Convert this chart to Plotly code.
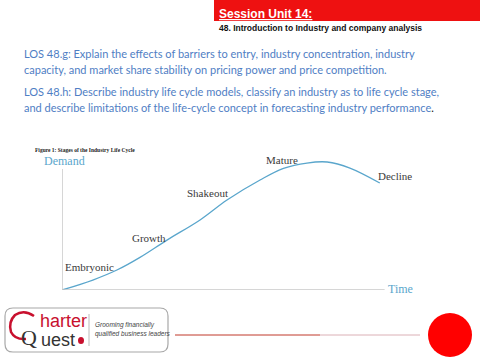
import plotly.graph_objects as go

# ---- data ----
time_vals = [0, 9.6, 17.1, 24.3, 32.7, 43.0, 51.4, 61.7, 69.0, 76.3, 82.6, 89.7, 99.0]
demand_vals = [0, 7.8, 15.6, 25.5, 39.0, 54.7, 70.3, 85.9, 95.0, 99.2, 100.0, 95.3, 83.6]
stage_names = ["Embryonic", "Growth", "Shakeout", "Mature", "Decline"]
stage_t = [8.6, 27.0, 45.2, 68.5, 103.7]
stage_d = [17.8, 41.0, 75.5, 101.2, 89.0]

W, H = 480, 360
def px(x):
    return x / W
def py(y):
    return 1 - y / H

fig = go.Figure()
fig.add_trace(go.Scatter(x=time_vals, y=demand_vals, mode="lines",
                         line=dict(color="#5aa6cc", width=1.3, shape="spline", smoothing=1.0),
                         hoverinfo="skip", showlegend=False))

# 100 time units = 321 px, 100 demand units = 128 px
XR, YR = 112, 106
sx, sy = 3.21, 1.28
fig.update_layout(
    width=W, height=H, margin=dict(l=0, r=0, t=0, b=0),
    paper_bgcolor="white", plot_bgcolor="rgba(0,0,0,0)",
    xaxis=dict(domain=[px(62), px(62 + XR * sx)], range=[0, XR], visible=False),
    yaxis=dict(domain=[py(290), py(290 - YR * sy)], range=[0, YR], visible=False),
    showlegend=False,
)

axis_col = "#c9c9c9"
fig.add_shape(type="line", xref="x", yref="y", x0=0, x1=0, y0=0, y1=94.5,
              line=dict(color=axis_col, width=1.5))
fig.add_shape(type="line", xref="x", yref="y", x0=0, x1=100.5, y0=0, y1=0,
              line=dict(color=axis_col, width=1.5))

serif = "Liberation Serif"
for name, t, d in zip(stage_names, stage_t, stage_d):
    fig.add_annotation(x=t, y=d, xref="x", yref="y", text=name, showarrow=False,
                       font=dict(family=serif, size=11, color="#3a3a3a"),
                       xanchor="center", yanchor="middle")
fig.add_annotation(x=px(64), y=py(161), xref="paper", yref="paper", text="Demand", showarrow=False,
                   font=dict(family=serif, size=12, color="#5aa6cc"),
                   xanchor="center", yanchor="middle")
fig.add_annotation(x=px(400), y=py(289), xref="paper", yref="paper", text="Time", showarrow=False,
                   font=dict(family=serif, size=12, color="#5aa6cc"),
                   xanchor="center", yanchor="middle")
fig.add_annotation(x=px(33), y=py(150), xref="paper", yref="paper",
                   text="<b>Figure 1: Stages of the Industry Life Cycle</b>", showarrow=False,
                   font=dict(family=serif, size=5.5, color="#222"),
                   xanchor="left", yanchor="middle")

# ---- header ----
fig.add_shape(type="rect", xref="paper", yref="paper", x0=px(214), x1=1, y0=py(21), y1=1,
              fillcolor="#ee1111", line=dict(width=0), layer="below")
fig.add_annotation(x=px(217), y=py(14), xref="paper", yref="paper",
                   text="<b><u>Session Unit 14:</u></b>", showarrow=False,
                   font=dict(family="Liberation Sans", size=12, color="white"),
                   xanchor="left", yanchor="middle")
fig.add_annotation(x=px(217), y=py(28.5), xref="paper", yref="paper",
                   text="<b>48. Introduction to Industry and company analysis</b>", showarrow=False,
                   font=dict(family="Liberation Sans", size=8.5, color="#111"),
                   xanchor="left", yanchor="middle")

# ---- LOS text ----
los_lines = [
    ("LOS 48.g: Explain the effects of barriers to entry, industry concentration, industry", 53),
    ("capacity, and market share stability on pricing power and price competition.", 69),
    ("LOS 48.h: Describe industry life cycle models, classify an industry as to life cycle stage,", 91),
    ("and describe limitations of the life-cycle concept in forecasting industry performance<span style='color:#111'>.</span>", 107),
]
for txt, yy in los_lines:
    fig.add_annotation(x=px(22), y=py(yy), xref="paper", yref="paper", text=txt, showarrow=False,
                       font=dict(family="Lato", size=11, color="#4f7ec4"),
                       xanchor="left", yanchor="middle")

# ---- footer logo ----
r = 8
lx0, lx1, ly0, ly1 = 5, 168, 308, 352
path = (f"M {px(lx0+r)} {py(ly0)} L {px(lx1-r)} {py(ly0)} "
        f"Q {px(lx1)} {py(ly0)} {px(lx1)} {py(ly0+r)} L {px(lx1)} {py(ly1-r)} "
        f"Q {px(lx1)} {py(ly1)} {px(lx1-r)} {py(ly1)} L {px(lx0+r)} {py(ly1)} "
        f"Q {px(lx0)} {py(ly1)} {px(lx0)} {py(ly1-r)} L {px(lx0)} {py(ly0+r)} "
        f"Q {px(lx0)} {py(ly0)} {px(lx0+r)} {py(ly0)} Z")
fig.add_shape(type="path", xref="paper", yref="paper", path=path,
              fillcolor="white", line=dict(color="#a8a8a8", width=1.2))
cpath = (f"M {px(34)} {py(316)} Q {px(24)} {py(309)} {px(15)} {py(315)} "
         f"Q {px(8)} {py(322)} {px(11)} {py(332)} Q {px(15)} {py(340)} {px(26)} {py(339)}")
fig.add_shape(type="path", xref="paper", yref="paper", path=cpath,
              line=dict(color="#c8102e", width=2.5))
fig.add_annotation(x=px(29), y=py(337), xref="paper", yref="paper", text="Q", showarrow=False,
                   font=dict(family="Liberation Serif", size=22, color="#333"),
                   xanchor="center", yanchor="middle")
fig.add_annotation(x=px(38), y=py(321), xref="paper", yref="paper", text="harter", showarrow=False,
                   font=dict(family="Liberation Sans", size=18, color="#c8102e"),
                   xanchor="left", yanchor="middle")
fig.add_annotation(x=px(39), y=py(340), xref="paper", yref="paper", text="uest", showarrow=False,
                   font=dict(family="Liberation Sans", size=18, color="#333"),
                   xanchor="left", yanchor="middle")
fig.add_shape(type="circle", xref="paper", yref="paper", x0=px(78), x1=px(84), y0=py(344), y1=py(337),
              fillcolor="#c8102e", line=dict(width=0))
fig.add_shape(type="line", xref="paper", yref="paper", x0=px(89), x1=px(89), y0=py(314), y1=py(346),
              line=dict(color="#aaa", width=0.8))
fig.add_annotation(x=px(93), y=py(325), xref="paper", yref="paper", text="<i>Grooming financially</i>",
                   showarrow=False, font=dict(family="Liberation Sans", size=6.5, color="#444"),
                   xanchor="left", yanchor="middle")
fig.add_annotation(x=px(93), y=py(334), xref="paper", yref="paper", text="<i>qualified business leaders</i>",
                   showarrow=False, font=dict(family="Liberation Sans", size=6.5, color="#444"),
                   xanchor="left", yanchor="middle")
fig.add_shape(type="line", xref="paper", yref="paper", x0=px(175), x1=px(320), y0=py(335), y1=py(335),
              line=dict(color="#c0392b", width=1))
fig.add_shape(type="line", xref="paper", yref="paper", x0=px(320), x1=px(420), y0=py(335), y1=py(335),
              line=dict(color="#dbb0b6", width=1))
fig.add_shape(type="circle", xref="paper", yref="paper", x0=px(428), x1=px(472), y0=py(357), y1=py(313),
              fillcolor="#ff0000", line=dict(width=0))

fig.write_html("out.html", config={"displayModeBar": False},
               post_script="document.body.style.margin='0';")
